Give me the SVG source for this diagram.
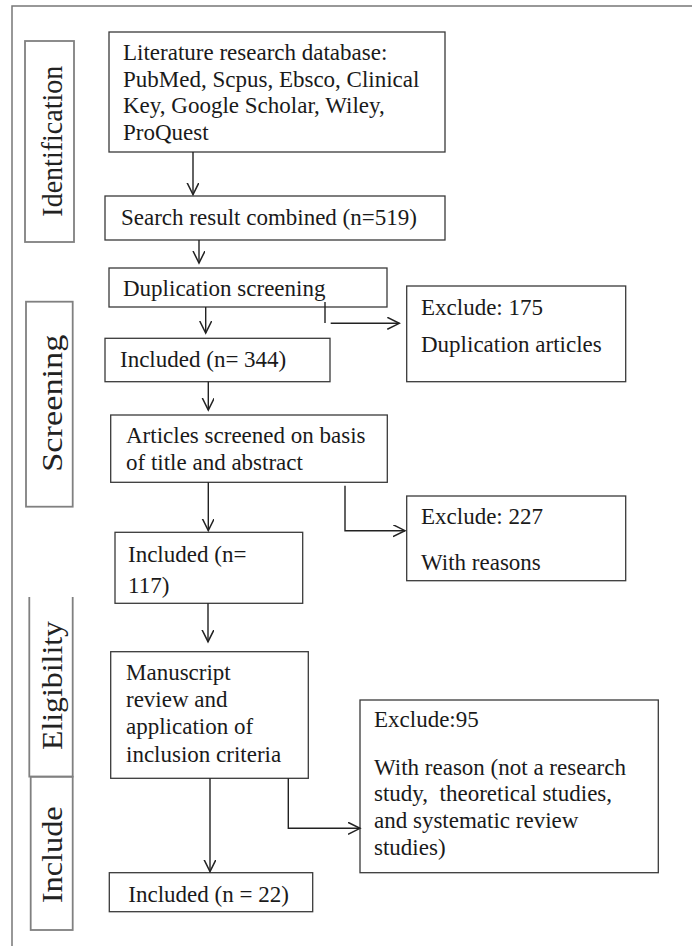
<svg xmlns="http://www.w3.org/2000/svg" width="692" height="946" viewBox="0 0 692 946">
<style>
.frame{fill:none;stroke:#777;stroke-width:1.5}
.lab{fill:none;stroke:#808080;stroke-width:1.8}
.box{fill:#fff;stroke:#3a3a3a;stroke-width:1.3}
.t{font-family:"Liberation Serif","Times New Roman",serif;font-size:23px;fill:#1a1a1a}
.lt{font-family:"Liberation Serif","Times New Roman",serif;font-size:30px;fill:#222}
.c{fill:none;stroke:#222;stroke-width:1.4}
</style>
<defs>
<marker id="ah" markerUnits="userSpaceOnUse" markerWidth="16" markerHeight="16" refX="12" refY="6" orient="auto">
<path d="M0,0 L12,6 L0,12" fill="none" stroke="#222" stroke-width="1.5"/>
</marker>
</defs>
<rect width="692" height="946" fill="#fff"/>
<g id="frame">
<path class="frame" d="M692,6 H12 V946"/>
</g>
<g id="label-identification">
<rect class="lab" x="25" y="41" width="49" height="201"/>
<text class="lt" transform="translate(61.7,216.7) rotate(-90)" textLength="151" lengthAdjust="spacingAndGlyphs">Identification</text>
</g>
<g id="label-screening">
<rect class="lab" x="26" y="301.7" width="46.7" height="205"/>
<text class="lt" transform="translate(61.7,471.7) rotate(-90)" textLength="137" lengthAdjust="spacingAndGlyphs">Screening</text>
</g>
<g id="label-eligibility">
<path class="lab" d="M29.3,597 V776.7 H72.7 V597"/>
<text class="lt" transform="translate(61.7,750) rotate(-90)" textLength="129" lengthAdjust="spacingAndGlyphs">Eligibility</text>
</g>
<g id="label-include">
<rect class="lab" x="30.7" y="776.7" width="42" height="153.3"/>
<text class="lt" transform="translate(61.7,903.3) rotate(-90)" textLength="97" lengthAdjust="spacingAndGlyphs">Include</text>
</g>
<g id="n-database">
<rect class="box" x="109" y="32" width="336" height="120"/>
<text class="t" x="123" y="60">Literature research database:</text>
<text class="t" x="123" y="86.7">PubMed, Scpus, Ebsco, Clinical</text>
<text class="t" x="123" y="113.3">Key, Google Scholar, Wiley,</text>
<text class="t" x="123" y="140">ProQuest</text>
</g>
<g id="n-search">
<rect class="box" x="105" y="196" width="340" height="44"/>
<text class="t" x="121" y="225">Search result combined (n=519)</text>
</g>
<g id="n-dup">
<rect class="box" x="109" y="268" width="278" height="39"/>
<text class="t" x="123" y="296">Duplication screening</text>
</g>
<g id="n-ex175">
<rect class="box" x="406.7" y="286" width="219" height="95.7"/>
<text class="t" x="421" y="315">Exclude: 175</text>
<text class="t" x="421" y="351.7">Duplication articles</text>
</g>
<g id="n-inc344">
<rect class="box" x="105" y="338.3" width="225" height="43.4"/>
<text class="t" x="120" y="366.7">Included (n= 344)</text>
</g>
<g id="n-articles">
<rect class="box" x="110.7" y="415" width="276.6" height="67.3"/>
<text class="t" x="126" y="443.3">Articles screened on basis</text>
<text class="t" x="126" y="470">of title and abstract</text>
</g>
<g id="n-ex227">
<rect class="box" x="406.7" y="496" width="219" height="84.7"/>
<text class="t" x="421" y="524">Exclude: 227</text>
<text class="t" x="421" y="570">With reasons</text>
</g>
<g id="n-inc117">
<rect class="box" x="115" y="532.3" width="187.7" height="71"/>
<text class="t" x="128" y="561.7">Included (n=</text>
<text class="t" x="128" y="593.3">117)</text>
</g>
<g id="n-manuscript">
<rect class="box" x="110.7" y="651.7" width="197.6" height="126.6"/>
<text class="t" x="126" y="680">Manuscript</text>
<text class="t" x="126" y="707.3">review and</text>
<text class="t" x="126" y="734">application of</text>
<text class="t" x="126" y="761.7">inclusion criteria</text>
</g>
<g id="n-ex95">
<rect class="box" x="360" y="700" width="298.3" height="172.7"/>
<text class="t" x="374" y="727.3">Exclude:95</text>
<text class="t" x="374" y="775">With reason (not a research</text>
<text class="t" x="374" y="800.7" style="white-space:pre">study,  theoretical studies,</text>
<text class="t" x="374" y="828.3">and systematic review</text>
<text class="t" x="374" y="855">studies)</text>
</g>
<g id="n-inc22">
<rect class="box" x="109.3" y="872.7" width="203.4" height="39"/>
<text class="t" x="128.3" y="901.7">Included (n = 22)</text>
</g>
<g id="connectors">
<path class="c" d="M193,152 V194.5" marker-end="url(#ah)"/>
<path class="c" d="M199,240 V263" marker-end="url(#ah)"/>
<path class="c" d="M205.7,307 V333" marker-end="url(#ah)"/>
<path class="c" d="M208.3,381.7 V410" marker-end="url(#ah)"/>
<path class="c" d="M208.3,482.3 V530.5" marker-end="url(#ah)"/>
<path class="c" d="M208,603.3 V641.7" marker-end="url(#ah)"/>
<path class="c" d="M210,778.3 V871.5" marker-end="url(#ah)"/>
<path class="c" d="M325,302 V323"/>
<path class="c" d="M330.7,323.3 H399.3" marker-end="url(#ah)"/>
<path class="c" d="M345,485.7 V530.7 H405" marker-end="url(#ah)"/>
<path class="c" d="M288.3,778.3 V828.3 H360" marker-end="url(#ah)"/>
</g>
</svg>
